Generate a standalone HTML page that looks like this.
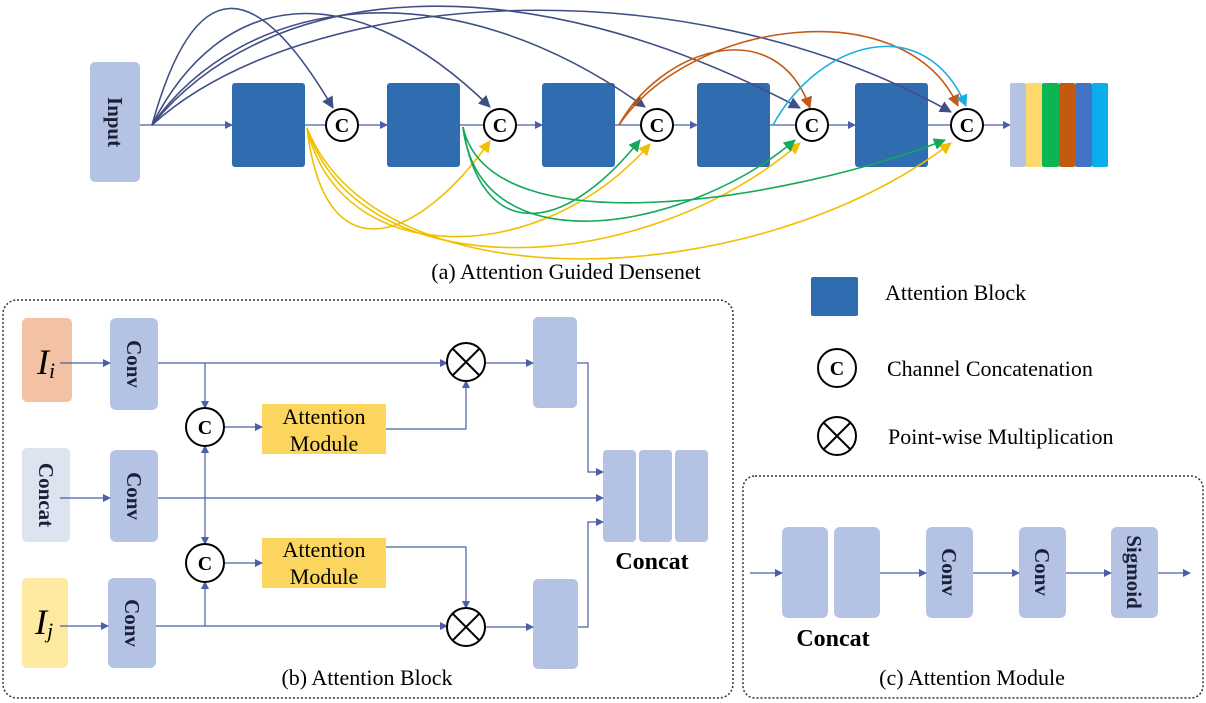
<!DOCTYPE html>
<html><head><meta charset="utf-8"><style>
html,body{margin:0;padding:0;background:#fff;}
svg{display:block;}
text{font-family:"Liberation Serif",serif;}
</style></head><body>
<svg width="1206" height="703" viewBox="0 0 1206 703" xmlns="http://www.w3.org/2000/svg">
<defs>
<marker id="mb" markerWidth="8" markerHeight="8" refX="7" refY="4" orient="auto" markerUnits="userSpaceOnUse" viewBox="0 0 8 8"><path d="M0,0L8,4L0,8z" fill="#4a5fa8"/></marker>
<marker id="md" markerWidth="12" markerHeight="12" refX="11" refY="6" orient="auto" markerUnits="userSpaceOnUse" viewBox="0 0 12 12"><path d="M0,0L12,6L0,12z" fill="#3f4f85"/></marker>
<marker id="my" markerWidth="12" markerHeight="12" refX="11" refY="6" orient="auto" markerUnits="userSpaceOnUse" viewBox="0 0 12 12"><path d="M0,0L12,6L0,12z" fill="#f0c000"/></marker>
<marker id="mg" markerWidth="12" markerHeight="12" refX="11" refY="6" orient="auto" markerUnits="userSpaceOnUse" viewBox="0 0 12 12"><path d="M0,0L12,6L0,12z" fill="#14a85a"/></marker>
<marker id="mo" markerWidth="12" markerHeight="12" refX="11" refY="6" orient="auto" markerUnits="userSpaceOnUse" viewBox="0 0 12 12"><path d="M0,0L12,6L0,12z" fill="#c45a18"/></marker>
<marker id="mc" markerWidth="12" markerHeight="12" refX="11" refY="6" orient="auto" markerUnits="userSpaceOnUse" viewBox="0 0 12 12"><path d="M0,0L12,6L0,12z" fill="#1aaee0"/></marker>
</defs>

<!-- (a) -->
<rect x="90" y="62" width="50" height="120" rx="5" fill="#b4c3e3"/>
<text transform="translate(108,122) rotate(90)" text-anchor="middle" font-size="21" font-weight="bold" fill="#1a1f3a">Input</text>
<g stroke="#4a5fa8" stroke-width="1.3" fill="none" marker-end="url(#mb)">
<line x1="140" y1="125" x2="232" y2="125"/>
<line x1="305" y1="125" x2="326" y2="125" marker-end="none"/>
<line x1="358" y1="125" x2="387" y2="125"/>
<line x1="460" y1="125" x2="484" y2="125" marker-end="none"/>
<line x1="516" y1="125" x2="542" y2="125"/>
<line x1="615" y1="125" x2="641" y2="125" marker-end="none"/>
<line x1="673" y1="125" x2="697" y2="125"/>
<line x1="770" y1="125" x2="796" y2="125" marker-end="none"/>
<line x1="828" y1="125" x2="855" y2="125"/>
<line x1="928" y1="125" x2="951" y2="125" marker-end="none"/>
<line x1="983" y1="125" x2="1010" y2="125"/>
</g>
<g fill="#2f6db0">
<rect x="232" y="83" width="73" height="84" rx="3"/>
<rect x="387" y="83" width="73" height="84" rx="3"/>
<rect x="542" y="83" width="73" height="84" rx="3"/>
<rect x="697" y="83" width="73" height="84" rx="3"/>
<rect x="855" y="83" width="73" height="84" rx="3"/>
</g>
<rect x="1010" y="83" width="16" height="84" rx="2" fill="#b4c3e3"/>
<rect x="1026" y="83" width="16" height="84" rx="2" fill="#fcd96a"/>
<rect x="1042" y="83" width="17" height="84" rx="2" fill="#0bb552"/>
<rect x="1059" y="83" width="16" height="84" rx="2" fill="#c35a10"/>
<rect x="1075" y="83" width="17" height="84" rx="2" fill="#4472c4"/>
<rect x="1092" y="83" width="16" height="84" rx="2" fill="#0aaeec"/>

<!-- curves -->
<g fill="none" stroke-width="1.6">
<g stroke="#3f4f85" marker-end="url(#md)">
<path d="M152,125 C195,-30 255,-25 333,108"/>
<path d="M152,125 C220,-10 350,-30 490,107"/>
<path d="M152,125 C240,0 440,-40 645,107"/>
<path d="M152,125 C270,-20 520,-40 800,108"/>
<path d="M152,125 C300,-10 680,-40 951,112"/>
</g>
<g stroke="#f0c000" marker-end="url(#my)">
<path d="M307,128 C325,280 420,240 490,141"/>
<path d="M307,128 C340,270 540,270 650,144"/>
<path d="M307,128 C360,290 640,280 800,143"/>
<path d="M307,128 C380,310 760,290 951,143"/>
</g>
<g stroke="#14a85a" marker-end="url(#mg)">
<path d="M463,127 C480,240 560,240 640,140"/>
<path d="M463,127 C480,270 690,230 795,140"/>
<path d="M463,127 C490,250 790,200 945,140"/>
</g>
<g stroke="#c45a18" marker-end="url(#mo)">
<path d="M619,125 C660,50 775,10 810,108"/>
<path d="M619,125 C690,20 905,-10 958,106"/>
</g>
<g stroke="#1aaee0" marker-end="url(#mc)">
<path d="M773,125 C820,40 925,10 966,106"/>
</g>
</g>
<g fill="#fff" stroke="#000" stroke-width="2">
<circle cx="342" cy="125" r="16"/><circle cx="500" cy="125" r="16"/><circle cx="657" cy="125" r="16"/><circle cx="812" cy="125" r="16"/><circle cx="967" cy="125" r="16"/>
</g>
<g font-size="20" font-weight="bold" text-anchor="middle">
<text x="342" y="132">C</text><text x="500" y="132">C</text><text x="657" y="132">C</text><text x="812" y="132">C</text><text x="967" y="132">C</text>
</g>
<text x="566" y="279" font-size="22" text-anchor="middle">(a) Attention Guided Densenet</text>

<!-- legend -->
<rect x="811" y="277" width="47" height="39" rx="2" fill="#2f6db0"/>
<text x="885" y="300" font-size="22">Attention Block</text>
<circle cx="837" cy="368" r="19" fill="#fff" stroke="#000" stroke-width="2"/>
<text x="837" y="375" font-size="20" font-weight="bold" text-anchor="middle">C</text>
<text x="887" y="376" font-size="22">Channel Concatenation</text>
<circle cx="837" cy="436" r="19" fill="#fff" stroke="#000" stroke-width="2"/>
<path d="M824,423L850,449M850,423L824,449" stroke="#000" stroke-width="2"/>
<text x="888" y="444" font-size="22">Point-wise Multiplication</text>

<!-- (b) -->
<rect x="3" y="300" width="730" height="398" rx="14" fill="none" stroke="#333" stroke-width="1.5" stroke-dasharray="2,2"/>
<rect x="22" y="318" width="50" height="84" rx="5" fill="#f3c2a4"/>
<text x="46" y="374" font-size="36" font-style="italic" text-anchor="middle">I<tspan font-size="22" dy="4">i</tspan></text>
<rect x="22" y="448" width="48" height="94" rx="5" fill="#dde3ef"/>
<text transform="translate(39,495) rotate(90)" text-anchor="middle" font-size="21" font-weight="bold" fill="#1a1f3a">Concat</text>
<rect x="22" y="578" width="46" height="90" rx="5" fill="#fde9a0"/>
<text x="44" y="634" font-size="36" font-style="italic" text-anchor="middle">I<tspan font-size="22" dy="4">j</tspan></text>
<g fill="#b4c3e3">
<rect x="110" y="318" width="48" height="92" rx="6"/>
<rect x="110" y="450" width="48" height="92" rx="6"/>
<rect x="108" y="578" width="48" height="90" rx="6"/>
<rect x="533" y="317" width="44" height="91" rx="5"/>
<rect x="533" y="579" width="45" height="90" rx="5"/>
<rect x="603" y="450" width="33" height="92" rx="4"/>
<rect x="639" y="450" width="33" height="92" rx="4"/>
<rect x="675" y="450" width="33" height="92" rx="4"/>
</g>
<g font-size="21" font-weight="bold" text-anchor="middle" fill="#1a1f3a">
<text transform="translate(127,364) rotate(90)">Conv</text>
<text transform="translate(127,496) rotate(90)">Conv</text>
<text transform="translate(125,623) rotate(90)">Conv</text>
</g>
<rect x="262" y="404" width="124" height="50" fill="#fcd55e"/>
<rect x="262" y="538" width="124" height="50" fill="#fcd55e"/>
<g font-size="22" text-anchor="middle"><text x="324" y="424">Attention</text><text x="324" y="451">Module</text><text x="324" y="557">Attention</text><text x="324" y="584">Module</text></g>
<text x="652" y="569" font-size="24" font-weight="bold" text-anchor="middle">Concat</text>
<text x="367" y="685" font-size="22" text-anchor="middle">(b) Attention Block</text>
<g stroke="#4a5fa8" stroke-width="1.2" fill="none" marker-end="url(#mb)">
<line x1="60" y1="363" x2="110" y2="363"/>
<line x1="60" y1="498" x2="110" y2="498"/>
<line x1="60" y1="626" x2="108" y2="626"/>
<line x1="158" y1="363" x2="447" y2="363"/>
<line x1="205" y1="363" x2="205" y2="408"/>
<line x1="224" y1="427" x2="262" y2="427"/>
<polyline points="386,429 466,429 466,381"/>
<line x1="485" y1="363" x2="533" y2="363"/>
<polyline points="577,363 588,363 588,472 603,472"/>
<line x1="158" y1="498" x2="603" y2="498"/>
<line x1="205" y1="496" x2="205" y2="446"/>
<line x1="205" y1="496" x2="205" y2="544"/>
<line x1="224" y1="563" x2="262" y2="563"/>
<line x1="156" y1="626" x2="447" y2="626"/>
<line x1="205" y1="626" x2="205" y2="582"/>
<polyline points="386,547 466,547 466,608"/>
<line x1="485" y1="627" x2="533" y2="627"/>
<polyline points="578,627 588,627 588,522 603,522"/>
</g>
<g fill="#fff" stroke="#000" stroke-width="2">
<circle cx="205" cy="427" r="19"/><circle cx="205" cy="563" r="19"/>
<circle cx="466" cy="362" r="19"/><circle cx="466" cy="627" r="19"/>
</g>
<g font-size="20" font-weight="bold" text-anchor="middle"><text x="205" y="434">C</text><text x="205" y="570">C</text></g>
<path d="M453,349L479,375M479,349L453,375M453,614L479,640M479,614L453,640" stroke="#000" stroke-width="2"/>

<!-- (c) -->
<rect x="743" y="476" width="460" height="222" rx="12" fill="none" stroke="#333" stroke-width="1.5" stroke-dasharray="2,2"/>
<g fill="#b4c3e3">
<rect x="782" y="527" width="46" height="91" rx="6"/>
<rect x="834" y="527" width="46" height="91" rx="6"/>
<rect x="926" y="527" width="47" height="91" rx="6"/>
<rect x="1019" y="527" width="47" height="91" rx="6"/>
<rect x="1111" y="527" width="47" height="91" rx="6"/>
</g>
<g font-size="21" font-weight="bold" text-anchor="middle" fill="#1a1f3a">
<text transform="translate(942,572) rotate(90)">Conv</text>
<text transform="translate(1035,572) rotate(90)">Conv</text>
<text transform="translate(1127,572) rotate(90)">Sigmoid</text>
</g>
<g stroke="#4a5fa8" stroke-width="1.2" fill="none" marker-end="url(#mb)">
<line x1="750" y1="573" x2="782" y2="573"/>
<line x1="880" y1="573" x2="926" y2="573"/>
<line x1="973" y1="573" x2="1019" y2="573"/>
<line x1="1066" y1="573" x2="1111" y2="573"/>
<line x1="1158" y1="573" x2="1190" y2="573"/>
</g>
<text x="833" y="646" font-size="24" font-weight="bold" text-anchor="middle">Concat</text>
<text x="972" y="685" font-size="22" text-anchor="middle">(c) Attention Module</text>
</svg>
</body></html>
